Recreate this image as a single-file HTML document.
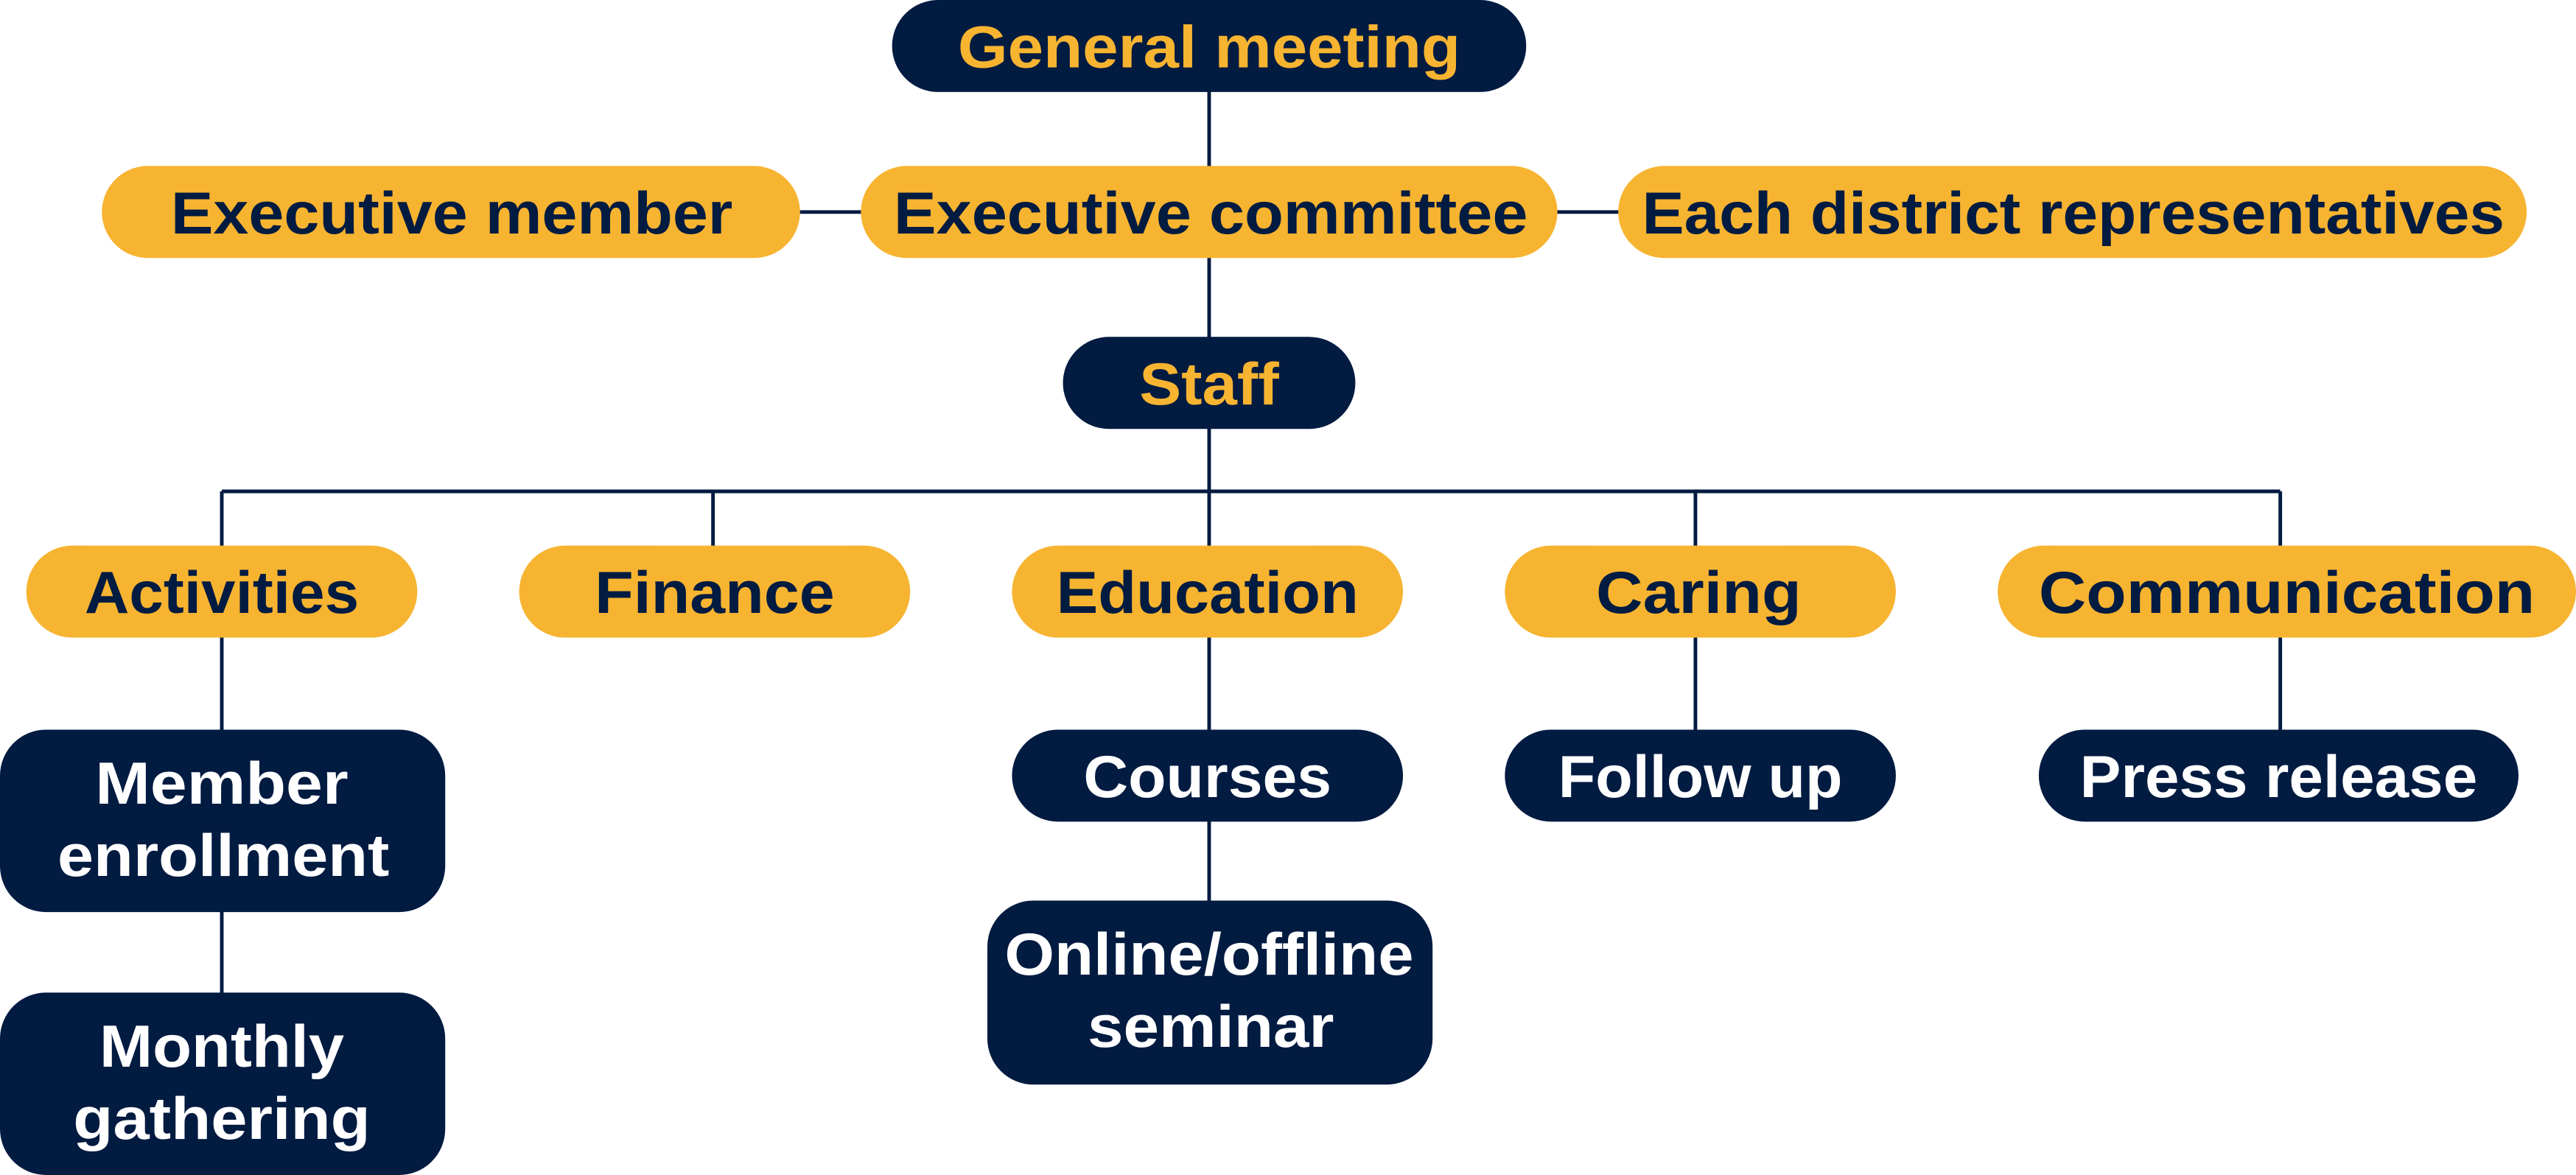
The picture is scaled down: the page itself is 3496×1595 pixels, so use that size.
<!DOCTYPE html>
<html><head><meta charset="utf-8"><style>
html,body{margin:0;padding:0;background:#fff;}
svg{display:block;}
text{font-family:"Liberation Sans",sans-serif;font-weight:bold;font-size:36px;text-anchor:middle;}
.o{fill:#f7b431}.n{fill:#021b41}
.to{fill:#f7b431}.tn{fill:#021b41}.tw{fill:#fff}
</style></head><body>
<svg width="3496" height="1595" viewBox="0 0 1568 715" preserveAspectRatio="none" xmlns="http://www.w3.org/2000/svg">
<g stroke="#021b41" stroke-width="2.2" fill="none">
<line x1="736" y1="50" x2="736" y2="444"/>
<line x1="480" y1="129" x2="990" y2="129"/>
<line x1="135" y1="299" x2="1388" y2="299"/>
<line x1="135" y1="299" x2="135" y2="610"/>
<line x1="434" y1="299" x2="434" y2="340"/>
<line x1="1032" y1="299" x2="1032" y2="450"/>
<line x1="1388" y1="299" x2="1388" y2="450"/>
<line x1="736" y1="444" x2="736" y2="555"/>
</g>
<rect class="n" x="543" y="0" width="386" height="56" rx="28"/>
<text class="to" x="736" y="41" textLength="306" lengthAdjust="spacingAndGlyphs">General meeting</text>
<rect class="o" x="62" y="101" width="425" height="56" rx="28"/>
<text class="tn" x="275" y="142" textLength="342" lengthAdjust="spacingAndGlyphs">Executive member</text>
<rect class="o" x="524" y="101" width="424" height="56" rx="28"/>
<text class="tn" x="737" y="142" textLength="386" lengthAdjust="spacingAndGlyphs">Executive committee</text>
<rect class="o" x="985" y="101" width="553" height="56" rx="28"/>
<text class="tn" x="1262" y="142" textLength="525" lengthAdjust="spacingAndGlyphs">Each district representatives</text>
<rect class="n" x="647" y="205" width="178" height="56" rx="28"/>
<text class="to" x="736" y="246" textLength="85" lengthAdjust="spacingAndGlyphs">Staff</text>

<rect class="o" x="16" y="332" width="238" height="56" rx="28"/>
<text class="tn" x="135" y="373" textLength="167" lengthAdjust="spacingAndGlyphs">Activities</text>
<rect class="o" x="316" y="332" width="238" height="56" rx="28"/>
<text class="tn" x="435" y="373" textLength="146" lengthAdjust="spacingAndGlyphs">Finance</text>
<rect class="o" x="616" y="332" width="238" height="56" rx="28"/>
<text class="tn" x="735" y="373" textLength="184" lengthAdjust="spacingAndGlyphs">Education</text>
<rect class="o" x="916" y="332" width="238" height="56" rx="28"/>
<text class="tn" x="1034" y="373" textLength="125" lengthAdjust="spacingAndGlyphs">Caring</text>
<rect class="o" x="1216" y="332" width="352" height="56" rx="28"/>
<text class="tn" x="1392" y="373" textLength="302" lengthAdjust="spacingAndGlyphs">Communication</text>

<rect class="n" x="0" y="444" width="271" height="111" rx="28"/>
<text class="tw" x="135" y="489" textLength="154" lengthAdjust="spacingAndGlyphs">Member</text>
<text class="tw" x="136" y="533" textLength="202" lengthAdjust="spacingAndGlyphs">enrollment</text>
<rect class="n" x="0" y="604" width="271" height="111" rx="28"/>
<text class="tw" x="135" y="649" textLength="149" lengthAdjust="spacingAndGlyphs">Monthly</text>
<text class="tw" x="135" y="693" textLength="181" lengthAdjust="spacingAndGlyphs">gathering</text>

<rect class="n" x="616" y="444" width="238" height="56" rx="28"/>
<text class="tw" x="735" y="485" textLength="151" lengthAdjust="spacingAndGlyphs">Courses</text>
<rect class="n" x="601" y="548" width="271" height="112" rx="28"/>
<text class="tw" x="736" y="593" textLength="249" lengthAdjust="spacingAndGlyphs">Online/offline</text>
<text class="tw" x="737" y="637" textLength="150" lengthAdjust="spacingAndGlyphs">seminar</text>

<rect class="n" x="916" y="444" width="238" height="56" rx="28"/>
<text class="tw" x="1035" y="485" textLength="173" lengthAdjust="spacingAndGlyphs">Follow up</text>
<rect class="n" x="1241" y="444" width="292" height="56" rx="28"/>
<text class="tw" x="1387" y="485" textLength="242" lengthAdjust="spacingAndGlyphs">Press release</text>
</svg>
</body></html>
